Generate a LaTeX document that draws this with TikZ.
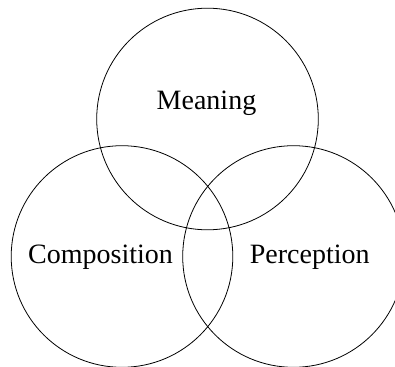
\documentclass[tikz,border=0pt]{standalone}
\usepackage{fontspec}
\setmainfont{Liberation Serif}
\begin{document}
\begin{tikzpicture}[x=1pt,y=-1pt,
  venn/.style={circle,draw=black,line width=0.8pt,minimum size=221.6pt,inner sep=0pt},
  lbl/.style={anchor=base,inner sep=0pt,font=\fontsize{28}{32}\selectfont}]
\useasboundingbox (0,0) rectangle (395,366);
\node[venn] (meaningC) at (207.5,119) {};
\node[venn] (compC) at (122,256.5) {};
\node[venn] (percC) at (293.5,256.5) {};
\node[lbl] (meaning) at (206.5,110) {Meaning};
\node[lbl] (comp) at (100.5,263) {Composition};
\node[lbl] (perc) at (309.7,263) {Perception};
\end{tikzpicture}
\end{document}
